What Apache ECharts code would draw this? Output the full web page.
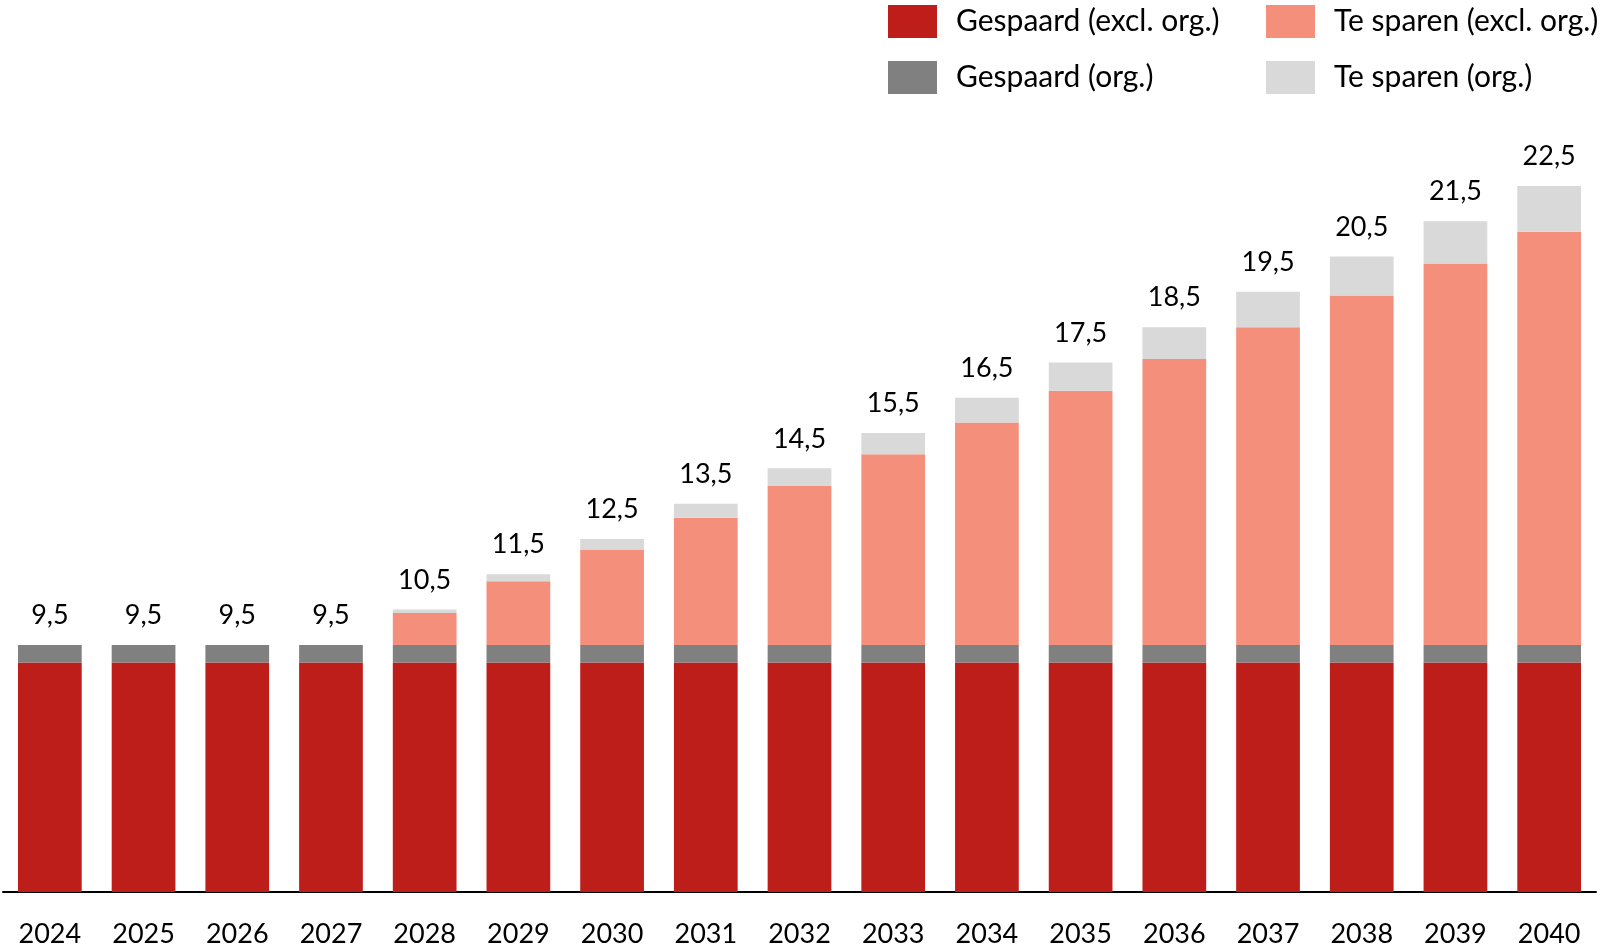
<!DOCTYPE html>
<html lang="nl">
<head>
    <meta charset="UTF-8">
    <title>Gespaard en te sparen</title>
    <script src="https://cdn.jsdelivr.net/npm/echarts@6/dist/echarts.min.js"></script>
    <style>
        html, body { margin: 0; padding: 0; background: #fff; }
        #chart { width: 1601px; height: 952px; }
    </style>
</head>
<body>
    <div id="chart"></div>
    <script>
    // data
    const years = ['2024', '2025', '2026', '2027', '2028', '2029', '2030', '2031', '2032',
                   '2033', '2034', '2035', '2036', '2037', '2038', '2039', '2040'];
    const gespaardExcl = [9.0, 9.0, 9.0, 9.0, 9.0, 9.0, 9.0, 9.0, 9.0, 9.0, 9.0, 9.0, 9.0, 9.0, 9.0, 9.0, 9.0];
    const gespaardOrg = [0.5, 0.5, 0.5, 0.5, 0.5, 0.5, 0.5, 0.5, 0.5, 0.5, 0.5, 0.5, 0.5, 0.5, 0.5, 0.5, 0.5];
    const teSparenExcl = [0, 0, 0, 0, 0.9, 1.8, 2.7, 3.6, 4.5, 5.4, 6.3, 7.2, 8.1, 9.0, 9.9, 10.8, 11.7];
    const teSparenOrg = [0, 0, 0, 0, 0.1, 0.2, 0.3, 0.4, 0.5, 0.6, 0.7, 0.8, 0.9, 1.0, 1.1, 1.2, 1.3];

    const FONT = 'Lato, "Open Sans", sans-serif';

    function totalLabel(i) {
        const t = gespaardExcl[i] + gespaardOrg[i] + teSparenExcl[i] + teSparenOrg[i];
        return t.toFixed(1).replace('.', ',');
    }

    const chart = echarts.init(document.getElementById('chart'));
    const legendBase = {
        orient: 'vertical',
        top: 0,
        itemWidth: 49,
        itemHeight: 33,
        itemGap: 23,
        icon: 'rect',
        selectedMode: false,
        textStyle: { fontFamily: FONT, fontSize: 30, color: '#000', padding: [0, 0, 0, 14] }
    };
    chart.setOption({
        animation: false,
        legend: [
            Object.assign({}, legendBase, { left: 883, data: ['Gespaard (excl. org.)', 'Gespaard (org.)'] }),
            Object.assign({}, legendBase, { left: 1261, data: ['Te sparen (excl. org.)', 'Te sparen (org.)'] })
        ],
        grid: { left: 3, right: 5, top: 133, bottom: 60 },
        xAxis: {
            type: 'category',
            data: years,
            axisTick: { show: false },
            axisLine: { lineStyle: { color: '#000', width: 2 } },
            axisLabel: { fontFamily: FONT, fontSize: 27, color: '#000', margin: 29 }
        },
        yAxis: {
            type: 'value',
            min: 2.5,
            max: 24,
            show: false,
            splitLine: { show: false }
        },
        series: [
            { name: 'Gespaard (excl. org.)', type: 'bar', stack: 'a', data: gespaardExcl,
              barCategoryGap: '32%', itemStyle: { color: '#BE1E19' } },
            { name: 'Gespaard (org.)', type: 'bar', stack: 'a', data: gespaardOrg,
              itemStyle: { color: '#808080' } },
            { name: 'Te sparen (excl. org.)', type: 'bar', stack: 'a', data: teSparenExcl,
              itemStyle: { color: '#F48F7C' } },
            { name: 'Te sparen (org.)', type: 'bar', stack: 'a', data: teSparenOrg,
              itemStyle: { color: '#D9D9D9' },
              label: {
                  show: true,
                  position: 'top',
                  distance: 16,
                  fontFamily: FONT,
                  fontSize: 27,
                  color: '#000',
                  formatter: p => totalLabel(p.dataIndex)
              } }
        ]
    });
    </script>
</body>
</html>
